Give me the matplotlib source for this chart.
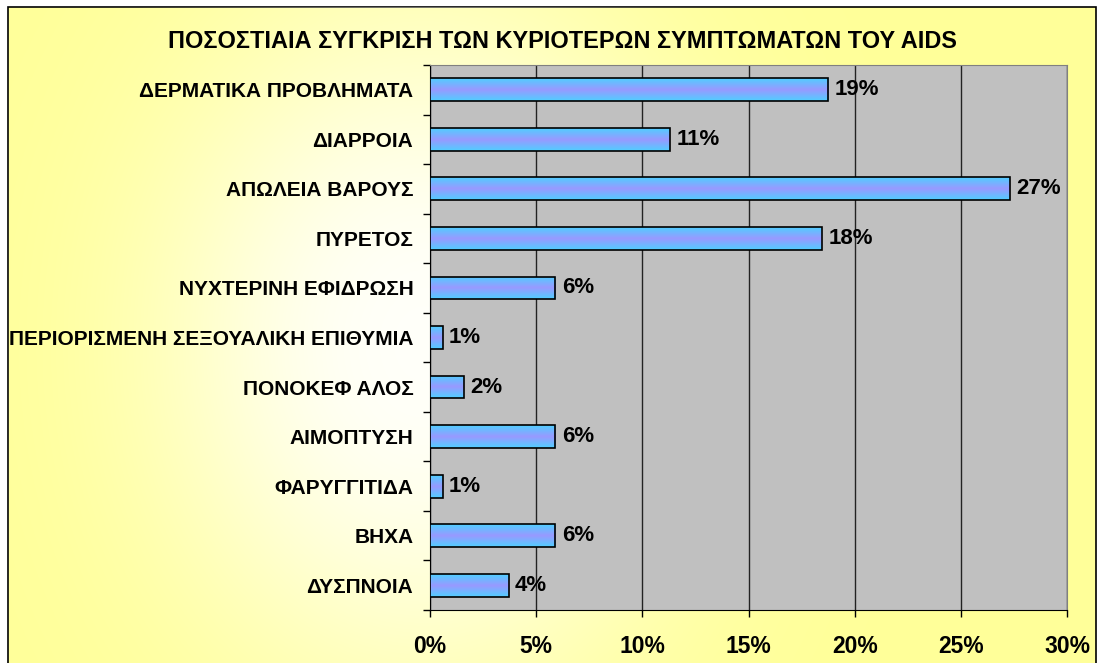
import numpy as np
import matplotlib
matplotlib.use("Agg")
import matplotlib.pyplot as plt
from matplotlib.patches import Rectangle
from matplotlib.colors import LinearSegmentedColormap
from matplotlib.ticker import FuncFormatter

plt.rcParams['font.family'] = ['Liberation Sans', 'DejaVu Sans']
plt.rcParams['font.weight'] = 'bold'

title = 'ΠΟΣΟΣΤΙΑΙΑ ΣΥΓΚΡΙΣΗ ΤΩΝ ΚΥΡΙΟΤΕΡΩΝ ΣΥΜΠΤΩΜΑΤΩΝ ΤΟΥ AIDS'

symptoms = [
    'ΔΕΡΜΑΤΙΚΑ ΠΡΟΒΛΗΜΑΤΑ',
    'ΔΙΑΡΡΟΙΑ',
    'ΑΠΩΛΕΙΑ ΒΑΡΟΥΣ',
    'ΠΥΡΕΤΟΣ',
    'ΝΥΧΤΕΡΙΝΗ ΕΦΙΔΡΩΣΗ',
    'ΠΕΡΙΟΡΙΣΜΕΝΗ ΣΕΞΟΥΑΛΙΚΗ ΕΠΙΘΥΜΙΑ',
    'ΠΟΝΟΚΕΦ ΑΛΟΣ',
    'ΑΙΜΟΠΤΥΣΗ',
    'ΦΑΡΥΓΓΙΤΙΔΑ',
    'ΒΗΧΑ',
    'ΔΥΣΠΝΟΙΑ',
]
# percentage of cases per symptom
percent = [18.75, 11.3, 27.3, 18.45, 5.9, 0.6, 1.6, 5.9, 0.6, 5.9, 3.7]

W, H = 1099, 663
fig = plt.figure(figsize=(W / 100, H / 100), dpi=100)
fig.patch.set_facecolor('white')

# yellow chart area with a soft white glow on the left
bg = fig.add_axes([0, 0, 1, 1], zorder=0)
bg.set_xlim(0, W)
bg.set_ylim(H, 0)
bg.axis('off')
yy, xx = np.mgrid[0:H, 0:W]
glow = np.exp(-(((xx - 420) / 270.0) ** 2 + ((yy - 340) / 340.0) ** 2) ** 1.2)
img = np.zeros((H, W, 4))
img[..., :3] = 1.0
img[..., 3] = 0.95 * glow
bg.add_patch(Rectangle((8, 7), 1088, 670, facecolor='#FFFF99', edgecolor='black', lw=1.2))
bg.imshow(img, extent=(8, 1096, H, 7), aspect='auto', zorder=2)

ax = fig.add_axes([430 / W, 1 - 610 / H, 637 / W, 545 / H], zorder=1)
ax.set_facecolor('#C0C0C0')

y = np.arange(len(symptoms))
bar_h = 0.46
bars = ax.barh(y, percent, height=bar_h, facecolor='none', edgecolor='black',
               linewidth=1.2, zorder=4)

# vertical cyan -> lavender -> cyan gradient inside each bar
cmap = LinearSegmentedColormap.from_list('barfill', ['#4FCFFF', '#9999FF', '#4FCFFF'])
grad = np.linspace(0, 1, 256).reshape(-1, 1)
for b in bars:
    x0, y0 = b.get_x(), b.get_y()
    im = ax.imshow(grad, cmap=cmap, aspect='auto', zorder=3, interpolation='bilinear',
                   extent=(x0, x0 + b.get_width(), y0 + b.get_height(), y0))
    im.set_clip_path(b)

for yi, v in zip(y, percent):
    ax.text(v + 0.3, yi, f'{v:.0f}%', va='center', ha='left', fontsize=16,
            fontweight='bold', zorder=5)

ax.set_xlim(0, 30)
ax.set_ylim(len(symptoms) - 0.5, -0.5)
ax.set_xticks(np.arange(0, 31, 5))
ax.xaxis.set_major_formatter(FuncFormatter(lambda v, p: f'{v:.0f}%'))
ax.set_yticks(y)
ax.set_yticklabels(symptoms)
ax.set_yticks(np.arange(-0.5, len(symptoms), 1), minor=True)
ax.tick_params(axis='y', which='major', length=0, pad=12, labelsize=15)
ax.tick_params(axis='y', which='minor', length=5, direction='out', width=1)
ax.tick_params(axis='x', length=5, direction='out', width=1, pad=13, labelsize=16.5)

ax.grid(axis='x', color='#222222', linewidth=1, zorder=1)
ax.set_axisbelow(True)
for side in ('top', 'right'):
    ax.spines[side].set_color('#808080')
for side in ('left', 'bottom'):
    ax.spines[side].set_color('black')

fig.text(562 / W, 1 - 42 / H, title, ha='center', va='center', fontsize=16.9, fontweight='bold')

fig.savefig('out.png', dpi=100)
